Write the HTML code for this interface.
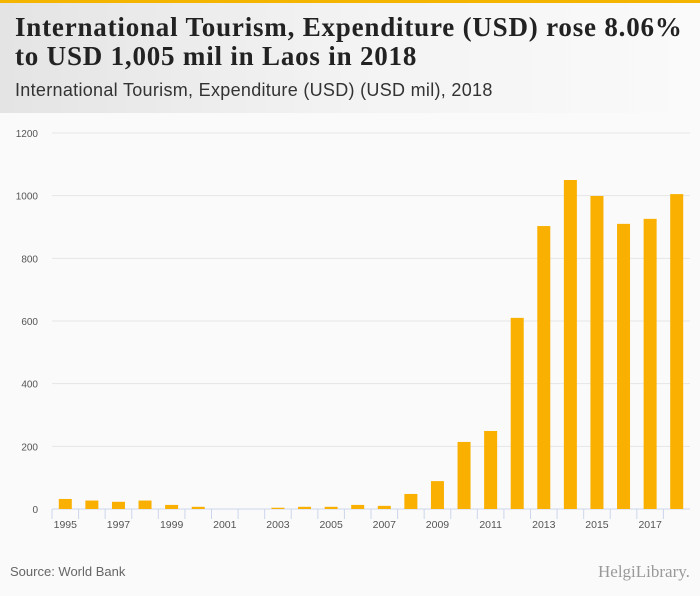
<!DOCTYPE html>
<html><head><meta charset="utf-8">
<style>
body{margin:0;width:700px;height:596px;background:#fafafa;font-family:"Liberation Sans",sans-serif;overflow:hidden;position:relative}
#hdr{position:absolute;left:0;top:0;width:700px;height:113px;background:linear-gradient(90deg,#e4e4e4,#f3f3f3 50%,#fafafa)}
#bar{position:absolute;left:0;top:0;width:700px;height:3px;background:#f5b400}
#title{position:absolute;left:15px;top:13px;font-family:"Liberation Serif",serif;font-weight:bold;font-size:27px;line-height:29px;color:#222;letter-spacing:0.8px;white-space:nowrap}
#sub{position:absolute;left:15px;top:80px;font-size:18px;letter-spacing:0.3px;color:#333;white-space:nowrap}
#src{position:absolute;left:10px;top:564px;font-size:13px;color:#666}
#logo{position:absolute;left:598px;top:562px;font-family:"Liberation Serif",serif;font-size:17px;color:#999}
</style></head><body>
<div id="hdr"></div>
<div id="bar"></div>
<div id="title">International Tourism, Expenditure (USD) rose 8.06%<br>to USD 1,005 mil in Laos in 2018</div>
<div id="sub">International Tourism, Expenditure (USD) (USD mil), 2018</div>
<svg id="chart" width="700" height="596" style="position:absolute;left:0;top:0"></svg>
<div id="src">Source: World Bank</div>
<div id="logo">HelgiLibrary.</div>
<script>
const years=[1995,1996,1997,1998,1999,2000,2001,2002,2003,2004,2005,2006,2007,2008,2009,2010,2011,2012,2013,2014,2015,2016,2017,2018];
const values=[32,27,23,27,13,7,0,0,4,7,7,13,10,48,89,214,249,610,903,1050,999,910,926,1005];
const yTicks=[0,200,400,600,800,1000,1200];
const svg=document.getElementById('chart');
const NS='http://www.w3.org/2000/svg';
const x0=52,x1=690,y0=509,y1=133,yMax=1200;
const bw=(x1-x0)/years.length;
const y=v=>y0-(v/yMax)*(y0-y1);
const xc=i=>x0+bw*(i+0.5);
function mk(t,a){const e=document.createElementNS(NS,t);for(const k in a)e.setAttribute(k,a[k]);svg.appendChild(e);return e;}
yTicks.forEach(t=>{
  const l=mk('line',{x1:x0,x2:x1,y1:y(t),y2:y(t),stroke:t?'#e6e6e6':'#ccd6eb','stroke-width':1});
  
  
  const tx=mk('text',{x:38,y:y(t)+4,'text-anchor':'end','font-size':10,fill:'#555','font-family':'Liberation Sans, sans-serif'});
  tx.textContent=t;
  
  
});
years.forEach((yr,i)=>{
  const tk=mk('line',{x1:x0+bw*i,x2:x0+bw*i,y1:y0,y2:y0+10,stroke:'#ccd6eb'});
  
  
  const r=mk('rect',{x:xc(i)-6.5,y:y(values[i]),width:13,height:y0-y(values[i]),fill:'#f9b000'});
  
  
  if(i%2===0){
    const tx=mk('text',{x:xc(i),y:y0+19,'text-anchor':'middle','font-size':10.5,fill:'#555','font-family':'Liberation Sans, sans-serif'});
    tx.textContent=yr;
    
    
  }
});
</script>
</body></html>
